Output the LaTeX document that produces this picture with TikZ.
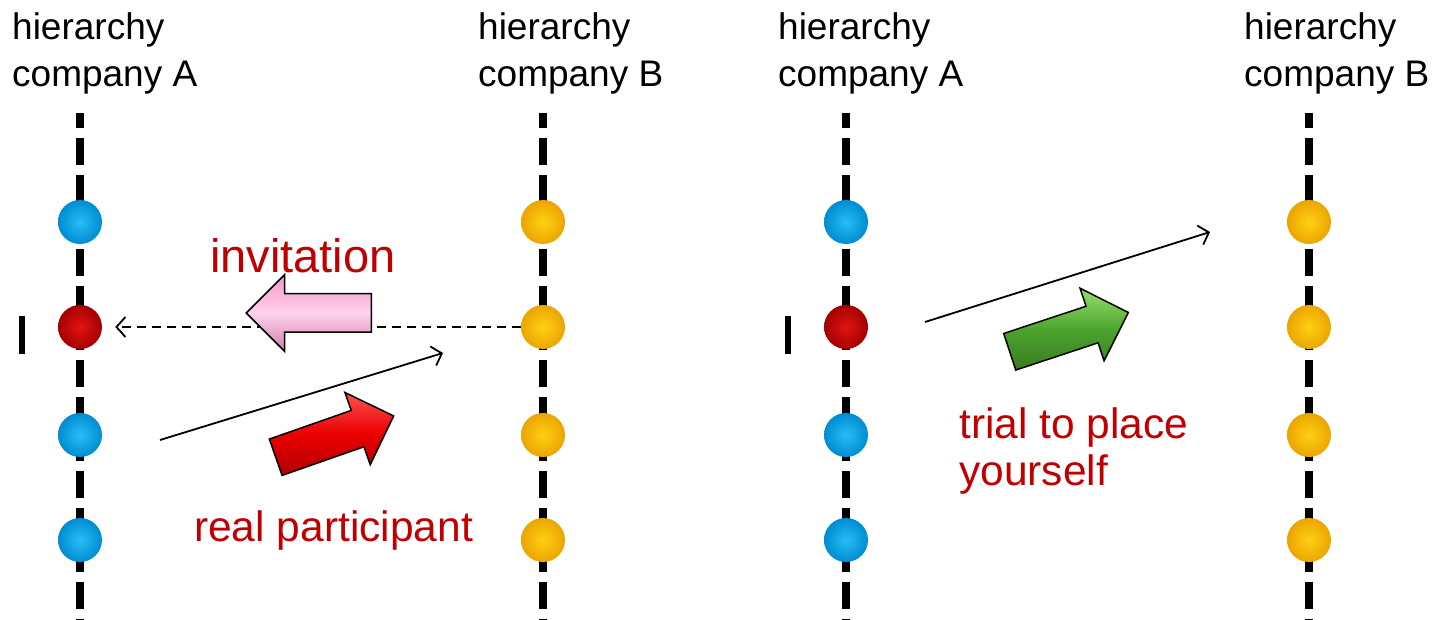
\documentclass[tikz,border=0pt]{standalone}
\usepackage{fontspec}
\setmainfont{Liberation Sans}
\usetikzlibrary{shapes.arrows,arrows.meta}

\definecolor{ballblue}{RGB}{40,190,245}
\definecolor{ballblueedge}{RGB}{0,140,210}
\definecolor{ballred}{RGB}{225,20,20}
\definecolor{balllrededge}{RGB}{165,0,0}
\definecolor{ballyellow}{RGB}{255,208,20}
\definecolor{ballyellowedge}{RGB}{235,165,0}
\definecolor{labelred}{RGB}{192,0,0}
\definecolor{pinkA}{RGB}{255,210,235}
\definecolor{pinkB}{RGB}{245,150,200}
\definecolor{redA}{RGB}{255,80,80}
\definecolor{redB}{RGB}{235,0,0}
\definecolor{greenA}{RGB}{150,225,110}
\definecolor{greenB}{RGB}{75,165,45}

\tikzset{
  hier/.style={line width=8pt, dash pattern=on 27pt off 10pt, dash phase=12pt},
  member/.style={circle, minimum size=44pt, inner sep=0pt},
  bead/.style 2 args={member, shading=radial, inner color=#1, outer color=#2},
  heading/.style={anchor=base west, inner sep=0pt, font=\fontsize{37}{47}\selectfont},
  note/.style={anchor=base west, inner sep=0pt, text=labelred, font=\fontsize{42.5}{48}\selectfont},
  blockarrow/.style={single arrow, draw=black, line width=1.5pt, minimum height=125pt,
    minimum width=75pt, single arrow head extend=19pt, inner xsep=0pt, inner ysep=18.5pt,
    single arrow tip angle=90, anchor=tail},
  link/.style={line width=1.8pt, -{Straight Barb[length=9pt,width=20pt,line width=1.8pt]}},
  cursor/.style={fill=black, minimum width=6pt, minimum height=38pt, inner sep=0pt}
}

\begin{document}
\begin{tikzpicture}[x=1pt,y=-1pt]
\useasboundingbox (0,0) rectangle (1441,620);

% hierarchy axes
\foreach \x/\n in {80/la,543/lb,846/ra,1309/rb}{
  \coordinate (\n top) at (\x,113);
  \coordinate (\n bot) at (\x,620);
  \draw[hier] (\n top) -- (\n bot);
}

% headings
\node[heading] (hla1) at (12,40) {hierarchy};
\node[heading] (hla2) at (12,87) {company A};
\node[heading] (hlb1) at (478,40) {hierarchy};
\node[heading] (hlb2) at (478,87) {company B};
\node[heading] (hra1) at (778,40) {hierarchy};
\node[heading] (hra2) at (778,87) {company A};
\node[heading] (hrb1) at (1244,40) {hierarchy};
\node[heading] (hrb2) at (1244,87) {company B};

% members of company A (left and right)
\foreach \n/\x in {l/80,r/846}{
  \node[bead={ballblue}{ballblueedge}] (\n a1) at (\x,222) {};
  \node[bead={ballred}{balllrededge}]  (\n a2) at (\x,327) {};
  \node[bead={ballblue}{ballblueedge}] (\n a3) at (\x,435) {};
  \node[bead={ballblue}{ballblueedge}] (\n a4) at (\x,540) {};
}
% members of company B
\foreach \n/\x in {l/543,r/1309}{
  \node[bead={ballyellow}{ballyellowedge}] (\n b1) at (\x,222) {};
  \node[bead={ballyellow}{ballyellowedge}] (\n b2) at (\x,327) {};
  \node[bead={ballyellow}{ballyellowedge}] (\n b3) at (\x,435) {};
  \node[bead={ballyellow}{ballyellowedge}] (\n b4) at (\x,540) {};
}

% cursor marks
\node[cursor] (lcur) at (21.5,335) {};
\node[cursor] (rcur) at (787.5,335) {};

% left scene: invitation and real participant
\draw[link, dash pattern=on 9pt off 6pt] (lb2.west) -- ([xshift=13pt]la2.east);
\coordinate (lstart) at (160,440);
\coordinate (lend) at (443,353);
\draw[link] (lstart) -- (lend);

\node[blockarrow, shape border rotate=180, top color=pinkB, bottom color=pinkB!85!black,
  middle color=pinkA] (pinkarrow) at (372,313) {};
\node[blockarrow, rotate=19.3, top color=redA, bottom color=redB!75!black,
  middle color=redB] (redarrow) at (275,457.5) {};

\node[note, font=\fontsize{47}{48}\selectfont] (inv) at (210,273) {invitation};
\node[note] (real) at (194,541) {real participant};

% right scene: trial to place yourself
\coordinate (rstart) at (925,322);
\coordinate (rend) at (1210,232);
\draw[link] (rstart) -- (rend);
\node[blockarrow, rotate=18.3, top color=greenA, bottom color=greenB!75!black,
  middle color=greenB] (greenarrow) at (1009,352) {};
\node[note] (trial1) at (959,438) {trial to place};
\node[note] (trial2) at (959,485) {yourself};
\end{tikzpicture}
\end{document}
